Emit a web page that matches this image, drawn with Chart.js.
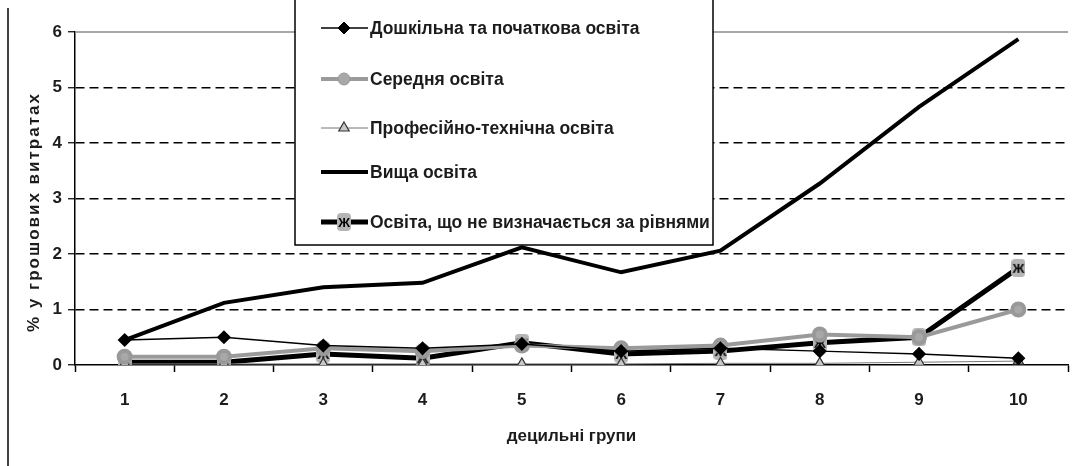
<!DOCTYPE html>
<html>
<head>
<meta charset="utf-8">
<script src="https://cdn.jsdelivr.net/npm/chart.js@4"></script>
<style>
  html, body { margin: 0; padding: 0; background: #fff; }
  #wrap { position: relative; width: 1081px; height: 466px; }
</style>
</head>
<body>
<div id="wrap"><canvas id="chart"></canvas></div>
<script>
/* DATA */
const groups = ["1", "2", "3", "4", "5", "6", "7", "8", "9", "10"];
const yTicks = ["0", "1", "2", "3", "4", "5", "6"];

const preschool = [0.45, 0.50, 0.35, 0.30, 0.38, 0.25, 0.30, 0.25, 0.20, 0.12];
const secondary = [0.15, 0.15, 0.30, 0.25, 0.35, 0.30, 0.35, 0.55, 0.50, 1.00];
const vocational = [0.02, 0.02, 0.02, 0.02, 0.02, 0.02, 0.03, 0.03, 0.05, 0.07];
const higher = [0.45, 1.12, 1.40, 1.48, 2.12, 1.67, 2.06, 3.27, 4.65, 5.87];
const notByLevel = [0.05, 0.05, 0.20, 0.12, 0.40, 0.20, 0.25, 0.40, 0.50, 1.75];

const labels = [
  "Дошкільна та початкова освіта",
  "Середня освіта",
  "Професійно-технічна освіта",
  "Вища освіта",
  "Освіта, що не визначається за рівнями"
];
const xTitle = "децильні групи";
const yTitle = "% у грошових витратах";

const FONT = "'Liberation Sans', Arial, sans-serif";
const INK = "#1c1c1c";

/* Ж MARKER */
function zhMarker() {
  const c = document.createElement("canvas");
  c.width = 14; c.height = 18;
  const g = c.getContext("2d");
  g.fillStyle = "#b5b5b5";
  g.beginPath();
  g.roundRect(0, 0, 14, 18, 4);
  g.fill();
  g.fillStyle = "#000";
  g.font = "bold 13px " + FONT;
  g.textAlign = "center";
  g.textBaseline = "middle";
  g.fillText("Ж", 7, 10);
  return c;
}
const zh = zhMarker();

const datasets = [
  {
    label: labels[0], data: preschool,
    borderColor: "#000", borderWidth: 1.5,
    pointStyle: "rectRot", pointRadius: 6,
    pointBackgroundColor: "#000", pointBorderColor: "#000"
  },
  {
    label: labels[1], data: secondary,
    borderColor: "#9a9a9a", borderWidth: 4,
    pointStyle: "circle", pointRadius: 6,
    pointBackgroundColor: "#a8a8a8", pointBorderColor: "#999"
  },
  {
    label: labels[2], data: vocational,
    borderColor: "#777", borderWidth: 1,
    pointStyle: "triangle", pointRadius: 6,
    pointBackgroundColor: "#c8c8c8", pointBorderColor: "#333", pointBorderWidth: 1.2
  },
  {
    label: labels[3], data: higher,
    borderColor: "#000", borderWidth: 4,
    pointRadius: 0
  },
  {
    label: labels[4], data: notByLevel,
    borderColor: "#000", borderWidth: 5,
    pointStyle: zh, pointRadius: 8
  }
];

/* LEGEND BOX + FRAME + Y TITLE */
const boxLegend = {
  id: "boxLegend",
  afterDraw(chart) {
    const ctx = chart.ctx;
    ctx.save();
    // scan frame on the left
    ctx.strokeStyle = "#000";
    ctx.lineWidth = 1.5;
    ctx.beginPath();
    ctx.moveTo(8, 8);
    ctx.lineTo(8, 466);
    ctx.stroke();

    // y title, spaced out like the scan
    ctx.save();
    ctx.translate(34, 212);
    ctx.rotate(-Math.PI / 2);
    ctx.fillStyle = INK;
    ctx.font = "bold 17px " + FONT;
    ctx.letterSpacing = "2px";
    ctx.textAlign = "center";
    ctx.textBaseline = "middle";
    ctx.fillText(yTitle, 0, 0);
    ctx.restore();

    const bx = 295, by = -5, bw = 418, bh = 250;
    ctx.fillStyle = "#fff";
    ctx.fillRect(bx, by, bw, bh);
    ctx.strokeStyle = "#000";
    ctx.lineWidth = 1.5;
    ctx.strokeRect(bx, by, bw, bh);

    const rows = [28, 79, 128, 172, 222];
    chart.data.datasets.forEach((ds, i) => {
      const y = rows[i];
      ctx.strokeStyle = ds.borderColor;
      ctx.lineWidth = ds.borderWidth;
      ctx.beginPath();
      ctx.moveTo(321, y);
      ctx.lineTo(368, y);
      ctx.stroke();
      if (ds.pointRadius > 0) {
        const opts = {
          pointStyle: ds.pointStyle, radius: ds.pointRadius, rotation: 0,
          borderWidth: ds.pointBorderWidth || 1
        };
        ctx.fillStyle = ds.pointBackgroundColor || "#000";
        ctx.strokeStyle = ds.pointBorderColor || "#000";
        ctx.lineWidth = ds.pointBorderWidth || 1;
        Chart.helpers.drawPoint(ctx, opts, 344, y);
      }
      ctx.fillStyle = INK;
      ctx.font = "bold 17.5px " + FONT;
      ctx.textBaseline = "middle";
      ctx.fillText(ds.label, 370, y + 1);
    });
    ctx.restore();
  }
};

/* TOP SOLID GRID LINE */
const topLine = {
  id: "topLine",
  beforeDatasetsDraw(chart) {
    const { ctx, chartArea, scales } = chart;
    const y = scales.y.getPixelForValue(6);
    ctx.save();
    ctx.strokeStyle = "#8a8a8a";
    ctx.lineWidth = 1.5;
    ctx.beginPath();
    ctx.moveTo(chartArea.left, y);
    ctx.lineTo(chartArea.right, y);
    ctx.stroke();
    ctx.restore();
  }
};

new Chart(document.getElementById("chart"), {
  type: "line",
  data: { labels: groups, datasets },
  options: {
    responsive: true,
    maintainAspectRatio: false,
    animation: false,
    layout: { padding: { top: 32, right: 0, left: 0, bottom: 0 } },
    plugins: { legend: { display: false }, tooltip: { enabled: false } },
    elements: { line: { tension: 0 } },
    scales: {
      x: {
        offset: true,
        afterFit: s => { s.height = 101; },
        grid: {
          offset: true, drawOnChartArea: false,
          tickLength: 7, tickColor: "#000", tickWidth: 1.5
        },
        border: { color: "#000", width: 1.5 },
        ticks: {
          color: INK, padding: 18,
          font: { family: FONT, size: 17, weight: "bold" }
        },
        title: {
          display: true, text: xTitle, color: INK,
          font: { family: FONT, size: 17, weight: "bold" },
          padding: { top: 0, bottom: 19 }
        }
      },
      y: {
        min: 0, max: 6,
        afterFit: s => { s.width = 75; },
        grid: {
          color: c => (c.tick.value === 0 || c.tick.value === 6) ? "rgba(0,0,0,0)" : "#000",
          lineWidth: 1.5,
          tickLength: 7, tickColor: "#000", tickWidth: 1.2
        },
        border: { color: "#000", width: 1.5, dash: [9, 5] },
        ticks: {
          stepSize: 1, color: INK, padding: 6,
          font: { family: FONT, size: 17, weight: "bold" },
          callback: (v, i) => yTicks[i]
        }
      }
    }
  },
  plugins: [topLine, boxLegend]
});
</script>
</body>
</html>
